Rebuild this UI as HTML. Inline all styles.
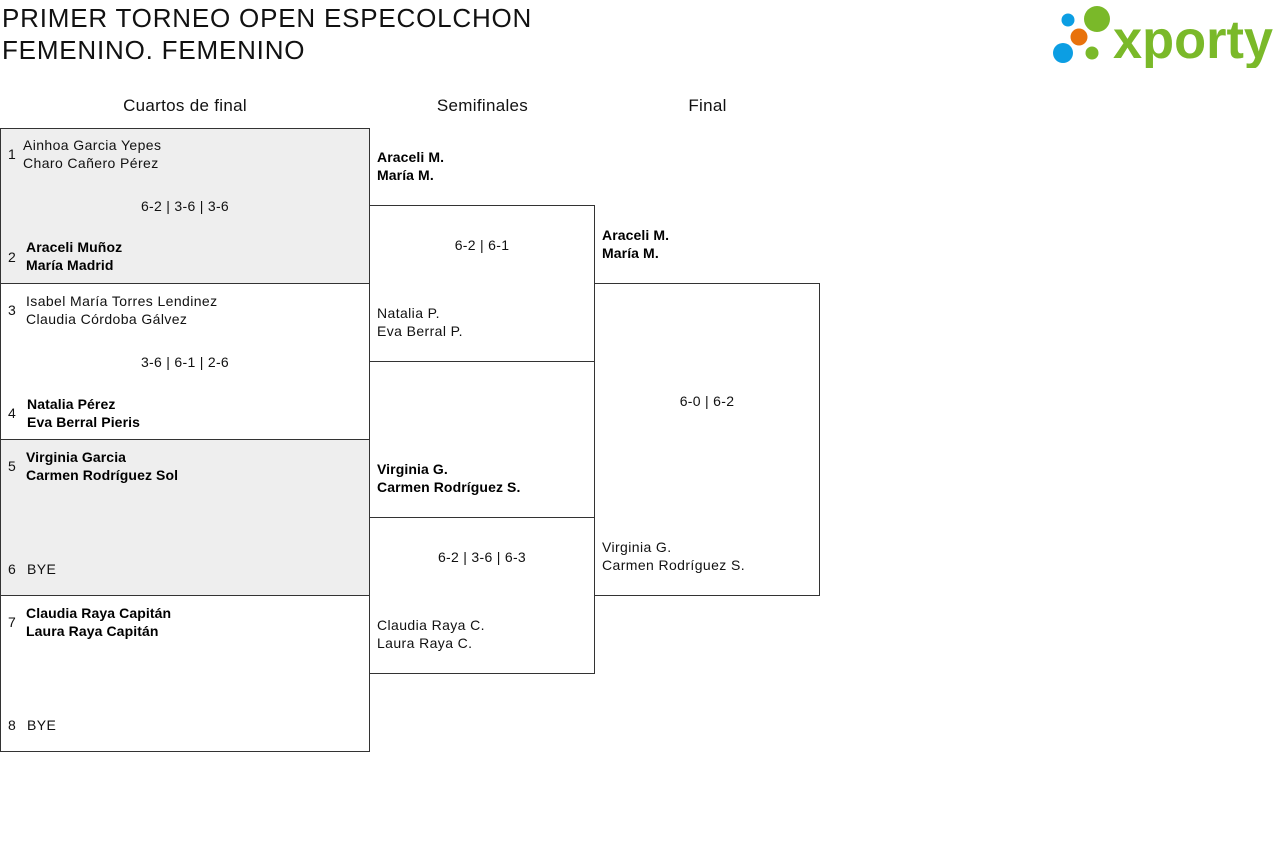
<!DOCTYPE html>
<html><head><meta charset="utf-8"><style>
body{margin:0;width:1280px;height:850px;background:#fff;position:relative;overflow:hidden;font-family:"Liberation Sans",sans-serif;color:#111}
.a{position:absolute;white-space:nowrap}
.t{font-size:26px;line-height:32px;letter-spacing:0.8px;font-weight:500}
.h{font-size:17px;line-height:20px;text-align:center;letter-spacing:.3px}
.box{position:absolute;border:1px solid #333;box-sizing:border-box}
.g{background:#eee}
.n{font-size:14px;line-height:18px;letter-spacing:.4px}
.b{font-weight:bold;font-size:14px;line-height:18px;letter-spacing:.1px;color:#000}
.s{font-size:14px;line-height:18px;text-align:center;letter-spacing:.3px}
</style></head><body>
<div class="a t" style="left:2px;top:2px">PRIMER TORNEO OPEN ESPECOLCHON</div>
<div class="a t" style="left:2px;top:34px">FEMENINO. FEMENINO</div>

<svg class="a" style="left:1050px;top:4px" width="226" height="64">
<circle cx="18" cy="16" r="6.5" fill="#0c9ee3"/>
<circle cx="47" cy="15" r="13" fill="#7ab929"/>
<circle cx="29" cy="33" r="8.5" fill="#e8720c"/>
<circle cx="13" cy="49" r="10" fill="#0c9ee3"/>
<circle cx="42" cy="49" r="6.5" fill="#7ab929"/>
<text x="63" y="54" font-family="Liberation Sans" font-weight="bold" font-size="54" fill="#7ab929" textLength="160" lengthAdjust="spacingAndGlyphs">xporty</text>
</svg>

<div class="a h" style="left:0;width:370px;top:96px">Cuartos de final</div>
<div class="a h" style="left:370px;width:225px;top:96px">Semifinales</div>
<div class="a h" style="left:595px;width:225px;top:96px">Final</div>

<div class="box g" style="left:0;top:128px;width:370px;height:156px"></div>
<div class="box" style="left:0;top:283px;width:370px;height:157px"></div>
<div class="box g" style="left:0;top:439px;width:370px;height:157px"></div>
<div class="box" style="left:0;top:595px;width:370px;height:157px"></div>
<div class="box" style="left:369px;top:205px;width:226px;height:157px"></div>
<div class="box" style="left:369px;top:517px;width:226px;height:157px"></div>
<div class="box" style="left:594px;top:283px;width:226px;height:313px"></div>

<div class="a n" style="left:8px;top:145px">1</div>
<div class="a n" style="left:23px;top:136px">Ainhoa Garcia Yepes<br>Charo Cañero Pérez</div>
<div class="a s" style="left:0;width:370px;top:197px">6-2 | 3-6 | 3-6</div>
<div class="a n" style="left:8px;top:248px">2</div>
<div class="a b" style="left:26px;top:238px">Araceli Muñoz<br>María Madrid</div>
<div class="a n" style="left:8px;top:301px">3</div>
<div class="a n" style="left:26px;top:292px">Isabel María Torres Lendinez<br>Claudia Córdoba Gálvez</div>
<div class="a s" style="left:0;width:370px;top:353px">3-6 | 6-1 | 2-6</div>
<div class="a n" style="left:8px;top:404px">4</div>
<div class="a b" style="left:27px;top:395px">Natalia Pérez<br>Eva Berral Pieris</div>
<div class="a n" style="left:8px;top:457px">5</div>
<div class="a b" style="left:26px;top:448px">Virginia Garcia<br>Carmen Rodríguez Sol</div>
<div class="a n" style="left:8px;top:560px">6</div>
<div class="a n" style="left:27px;top:560px">BYE</div>
<div class="a n" style="left:8px;top:613px">7</div>
<div class="a b" style="left:26px;top:604px">Claudia Raya Capitán<br>Laura Raya Capitán</div>
<div class="a n" style="left:8px;top:716px">8</div>
<div class="a n" style="left:27px;top:716px">BYE</div>

<div class="a b" style="left:377px;top:148px">Araceli M.<br>María M.</div>
<div class="a s" style="left:369px;width:226px;top:236px">6-2 | 6-1</div>
<div class="a n" style="left:377px;top:304px">Natalia P.<br>Eva Berral P.</div>
<div class="a b" style="left:377px;top:460px">Virginia G.<br>Carmen Rodríguez S.</div>
<div class="a s" style="left:369px;width:226px;top:548px">6-2 | 3-6 | 6-3</div>
<div class="a n" style="left:377px;top:616px">Claudia Raya C.<br>Laura Raya C.</div>

<div class="a b" style="left:602px;top:226px">Araceli M.<br>María M.</div>
<div class="a s" style="left:594px;width:226px;top:392px">6-0 | 6-2</div>
<div class="a n" style="left:602px;top:538px">Virginia G.<br>Carmen Rodríguez S.</div>
</body></html>
